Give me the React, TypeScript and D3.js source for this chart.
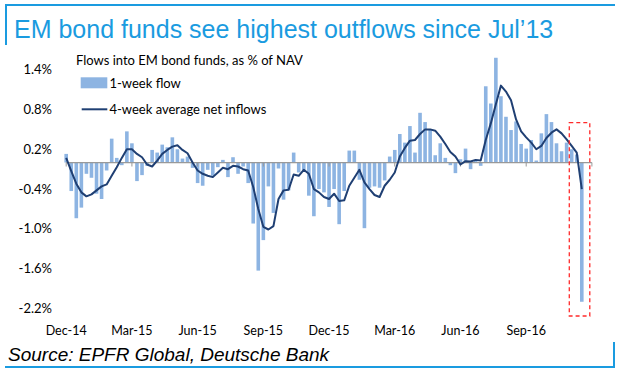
import React from "react";
import * as d3 from "d3";

const weeklyFlow: number[] = [
  0.13, -0.43, -0.84, -0.68, -0.17, -0.23, -0.47, -0.55, -0.12, 0.36,
  0.07, -0.04, 0.47, 0.29, -0.28, -0.19, -0.05, 0.19, 0.15, 0.27,
  0.23, 0.38, 0.2, 0.06, 0.09, -0.08, -0.31, -0.35, -0.11, -0.2,
  -0.07, 0.04, -0.22, 0.08, -0.17, -0.06, -0.31, -0.92, -1.63, -1.17,
  -0.36, -0.76, -0.09, -0.56, -0.42, 0.15, -0.15, -0.12, -0.5, -0.81,
  -0.4, -0.45, -0.67, -0.4, -0.93, -0.43, 0.18, 0.18, -0.26, -0.99,
  -0.38, -0.36, -0.38, -0.27, 0.09, 0.19, 0.43, 0.3, 0.55, 0.15,
  0.75, 0.61, 0.5, 0.11, 0.29, 0.07, -0.04, -0.16, 0.05, 0.21,
  -0.1, 0.03, -0.05, 1.15, 0.89, 1.58, 1.0, 0.69, 0.49, 0.62,
  0.28, 0.21, 0.34, 0.03, 0.44, 0.73, 0.61, 0.29, 0.17, 0.3,
  0.2, 0.12, -2.1,
];

const fourWeekAvg: number[] = [
  0.07, -0.13, -0.32, -0.45, -0.51, -0.48, -0.42, -0.36, -0.33, -0.2,
  -0.07, 0.07, 0.2, 0.2, 0.13, 0.08, -0.03, -0.06, 0.03, 0.13,
  0.19, 0.24, 0.26, 0.19, 0.14, 0.0, -0.12, -0.17, -0.2, -0.22,
  -0.15, -0.08, -0.1, -0.05, -0.06, -0.1, -0.12, -0.37, -0.7, -0.97,
  -1.01, -0.96, -0.55, -0.42, -0.41, -0.18, -0.2, -0.11, -0.17, -0.4,
  -0.45, -0.52, -0.55, -0.47, -0.58, -0.57, -0.35, -0.23, -0.11, -0.3,
  -0.4, -0.49, -0.52, -0.35, -0.26, -0.15, 0.09, 0.22, 0.33, 0.34,
  0.43, 0.5, 0.5, 0.48, 0.39, 0.28, 0.16, 0.09, -0.03, 0.02,
  0.015, 0.04, 0.03, 0.34, 0.59, 0.88, 1.16, 1.07, 0.94, 0.65,
  0.47, 0.38, 0.3, 0.2, 0.25, 0.37, 0.45, 0.5, 0.44, 0.35,
  0.25, 0.15, -0.4,
];

const xTickLabels: string[] = ["Dec-14", "Mar-15", "Jun-15", "Sep-15", "Dec-15", "Mar-16", "Jun-16", "Sep-16"];
const yTicks: number[] = [1.4, 0.8, 0.2, -0.4, -1.0, -1.6, -2.2];

const BLUE = "#1A9BE0";
const BAR = "#8DB4E2";
const LINE = "#1F3F73";
const FONT = "Lato, 'Open Sans', sans-serif";

export default function App() {
  const x = d3.scaleLinear().domain([0, 104]).range([66.2, 591.9]);
  const y = d3.scaleLinear().domain([-2.2, 1.4]).range([308.4, 69.7]);
  const barW = 3.6;
  const line = d3
    .line<number>()
    .x((_, i) => x(i))
    .y((d) => y(d))
    .curve(d3.curveLinear);
  const tickIdx = d3.range(0, 105, 13);
  const lastIdx = weeklyFlow.length - 1;

  return (
    <svg
      width={624}
      height={377}
      style={{ position: "absolute", left: 0, top: 0, background: "#fff" }}
    >
      {/* frame */}
      <line x1={5} x2={615} y1={5} y2={5} stroke={BLUE} strokeWidth={2} />
      <line x1={6} x2={6} y1={4} y2={45} stroke={BLUE} strokeWidth={2} />
      <line x1={5} x2={615} y1={367} y2={367} stroke={BLUE} strokeWidth={2} />
      <line x1={614} x2={614} y1={342} y2={368} stroke={BLUE} strokeWidth={2} />

      <text x={14} y={38} fill={BLUE} fontFamily="'Liberation Sans', Arial, sans-serif" fontSize={25}>
        EM bond funds see highest outflows since Jul’13
      </text>

      {/* y labels */}
      {yTicks.map((t) => (
        <text key={t} x={52} y={y(t) + 4.5} textAnchor="end" fontFamily={FONT} fontSize={13} fill="#000">
          {t.toFixed(1) + "%"}
        </text>
      ))}

      {/* bars */}
      {weeklyFlow.map((v, i) => (
        <rect
          key={i}
          x={x(i) - barW / 2}
          width={barW}
          y={Math.min(y(v), y(0))}
          height={Math.abs(y(v) - y(0))}
          fill={BAR}
        />
      ))}

      {/* zero axis */}
      <line x1={x(0)} x2={x(104)} y1={y(0)} y2={y(0)} stroke="#999" strokeWidth={1.2} />
      {tickIdx.map((t) => (
        <line key={t} x1={x(t)} x2={x(t)} y1={y(0)} y2={y(0) + 4} stroke="#999" strokeWidth={1} />
      ))}

      {/* 4-week line */}
      <path d={line(fourWeekAvg) || ""} fill="none" stroke={LINE} strokeWidth={2} strokeLinejoin="round" />

      {/* x labels */}
      {xTickLabels.map((l, k) => (
        <text key={l} x={x(k * 13)} y={335} textAnchor="middle" fontFamily={FONT} fontSize={12.5} fill="#000">
          {l}
        </text>
      ))}

      {/* highlight box */}
      <rect
        x={x(lastIdx) - 12.5}
        y={122.7}
        width={20.5}
        height={193.3}
        fill="none"
        stroke="#FF2A2A"
        strokeWidth={1.3}
        strokeDasharray="4 3"
      />

      {/* legend */}
      <text x={76} y={65} fontFamily={FONT} fontSize={13} fill="#000">
        Flows into EM bond funds, as % of NAV
      </text>
      <rect x={80.7} y={77.3} width={26.6} height={11} fill={BAR} />
      <text x={109.5} y={88} fontFamily={FONT} fontSize={13} fill="#000">
        1-week flow
      </text>
      <line x1={81.7} x2={107.3} y1={109.3} y2={109.3} stroke={LINE} strokeWidth={2} />
      <text x={109.5} y={114} fontFamily={FONT} fontSize={13} fill="#000">
        4-week average net inflows
      </text>

      <text x={8} y={361} fontFamily="'Liberation Sans', Arial, sans-serif" fontStyle="italic" fontSize={19} fill="#000">
        Source: EPFR Global, Deutsche Bank
      </text>
    </svg>
  );
}
